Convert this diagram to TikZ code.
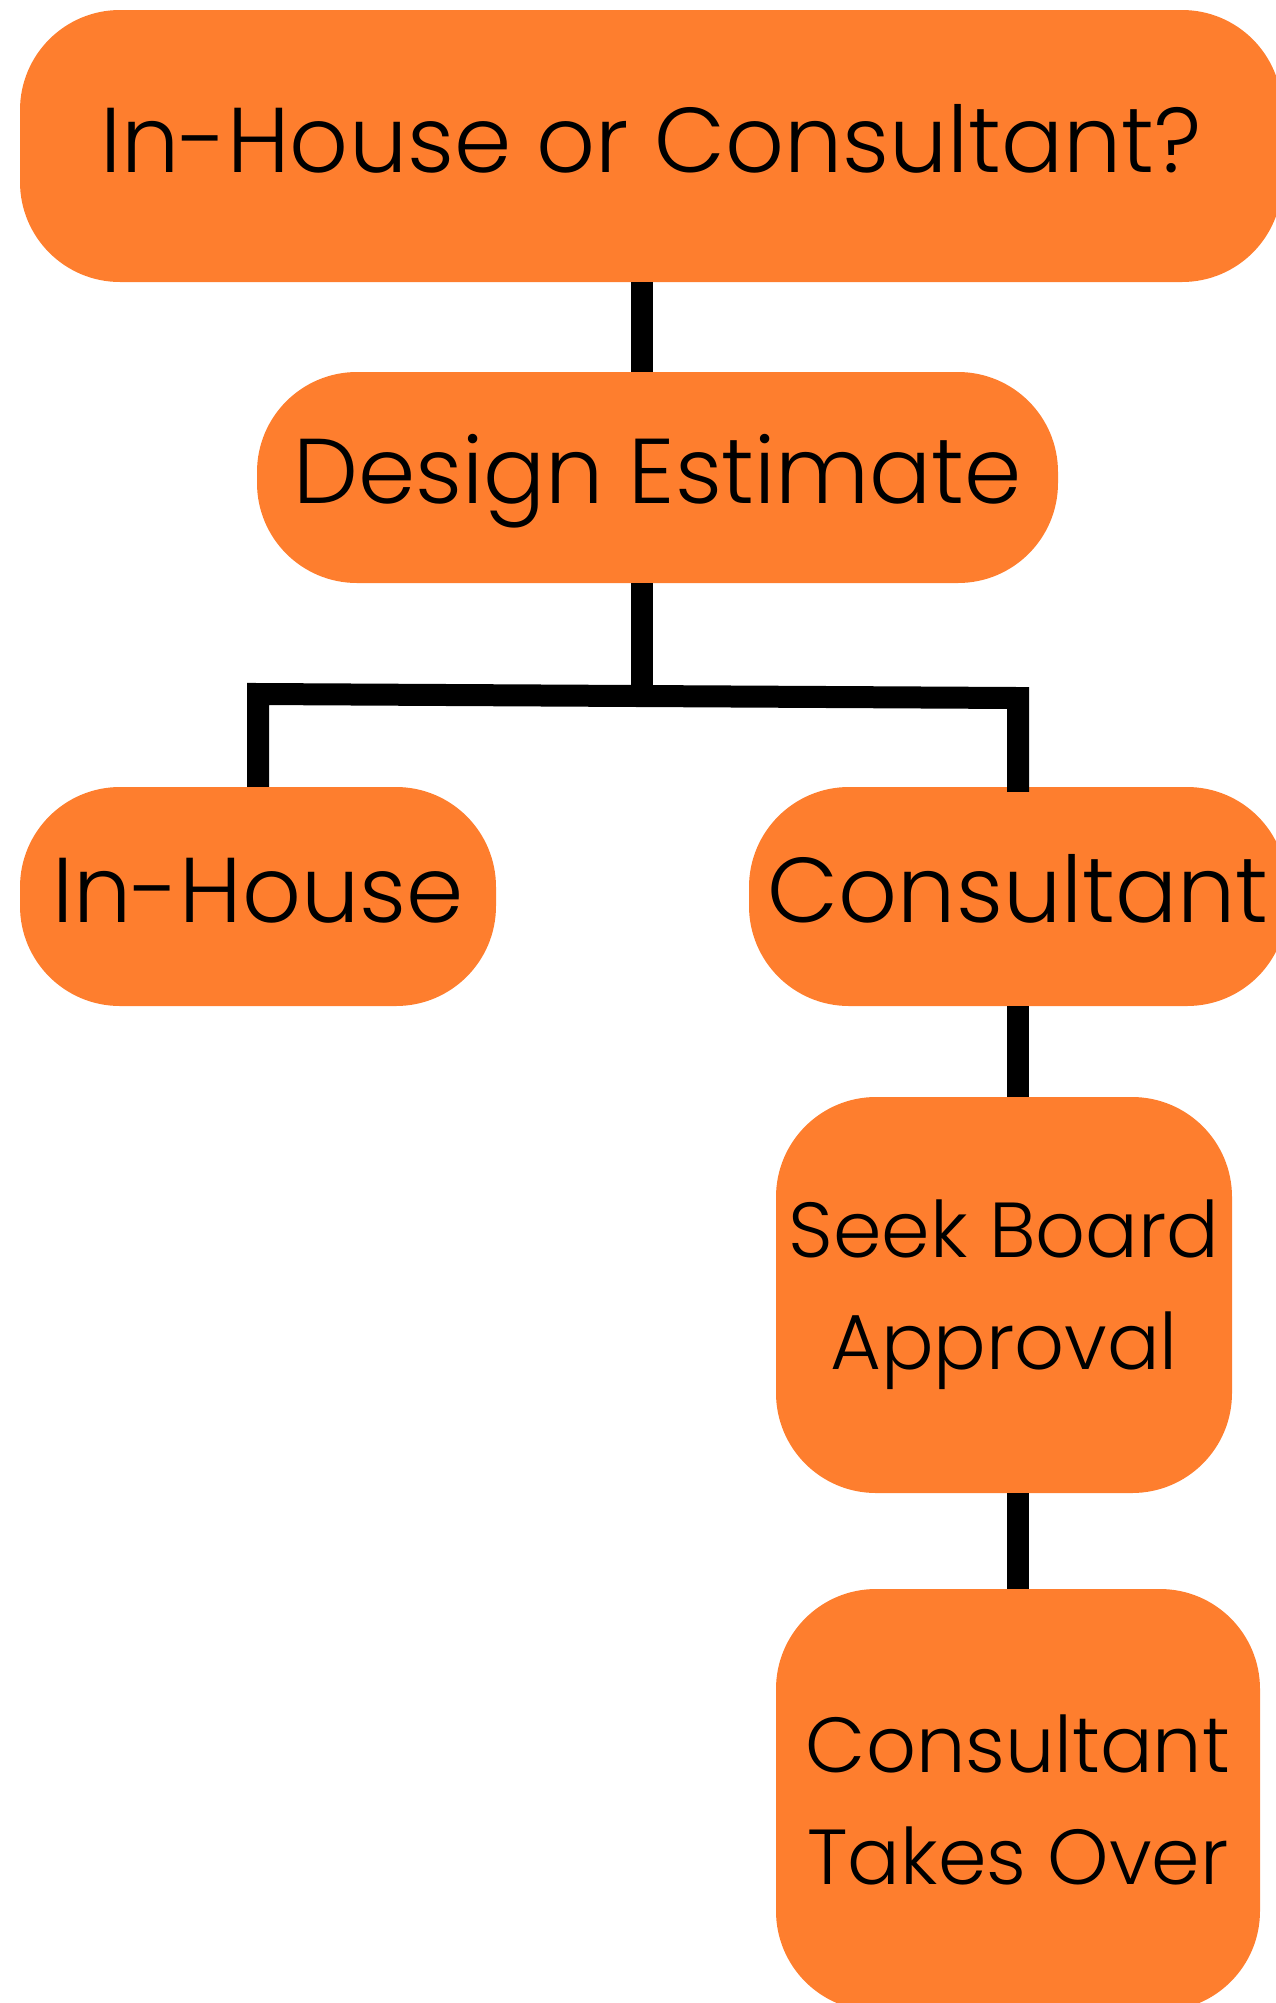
\documentclass[tikz,border=0pt]{standalone}
\usepackage{fontspec}
\setmainfont{Poppins}[UprightFont={* Light}]
\definecolor{boxorange}{RGB}{254,126,46}

\begin{document}
\begin{tikzpicture}[x=1pt,y=-1pt,
    box/.style={rectangle,rounded corners=100pt,fill=boxorange,inner sep=0pt,align=center},
    bigtext/.style={font=\fontsize{92}{110}\selectfont,text height=70pt,text depth=18pt},
    smalltext/.style={font=\fontsize{78}{112}\selectfont},
    link/.style={draw=black,line width=22pt,line join=miter}]
    \useasboundingbox (0,0) rectangle (1276,2003);
    \clip (0,0) rectangle (1276,2003);
    \node[box,bigtext,minimum width=1262pt,minimum height=272pt](q) at (651,146){In-House or Consultant?};
    \node[box,bigtext,minimum width=801pt,minimum height=211pt](est) at (657.5,477.5){Design Estimate};
    \node[box,bigtext,minimum width=476pt,minimum height=219pt](ih) at (258,896.5){In-House};
    \node[box,bigtext,minimum width=538pt,minimum height=219pt](cs) at (1018,896.5){Consultant};
    \node[box,smalltext,minimum width=456pt,minimum height=396pt](sk) at (1004,1295){Seek Board\\Approval};
    \node[box,smalltext,minimum width=484pt,minimum height=422pt](tk) at (1018,1800){Consultant\\Takes Over};
    \coordinate (fork) at (642,694);
    \coordinate (lbar) at (258,694);
    \coordinate (rbar) at (1018,698);
    \draw[link](fork |- q.south)--(fork |- est.north);
    \draw[link](fork |- est.south)--(fork);
    \draw[link](ih.north)--(lbar)--(rbar)--([yshift=-5pt]cs.north);
    \draw[link](cs.south)--(cs.south |- sk.north);
    \draw[link](cs.south |- sk.south)--(cs.south |- tk.north);
\end{tikzpicture}
\end{document}
